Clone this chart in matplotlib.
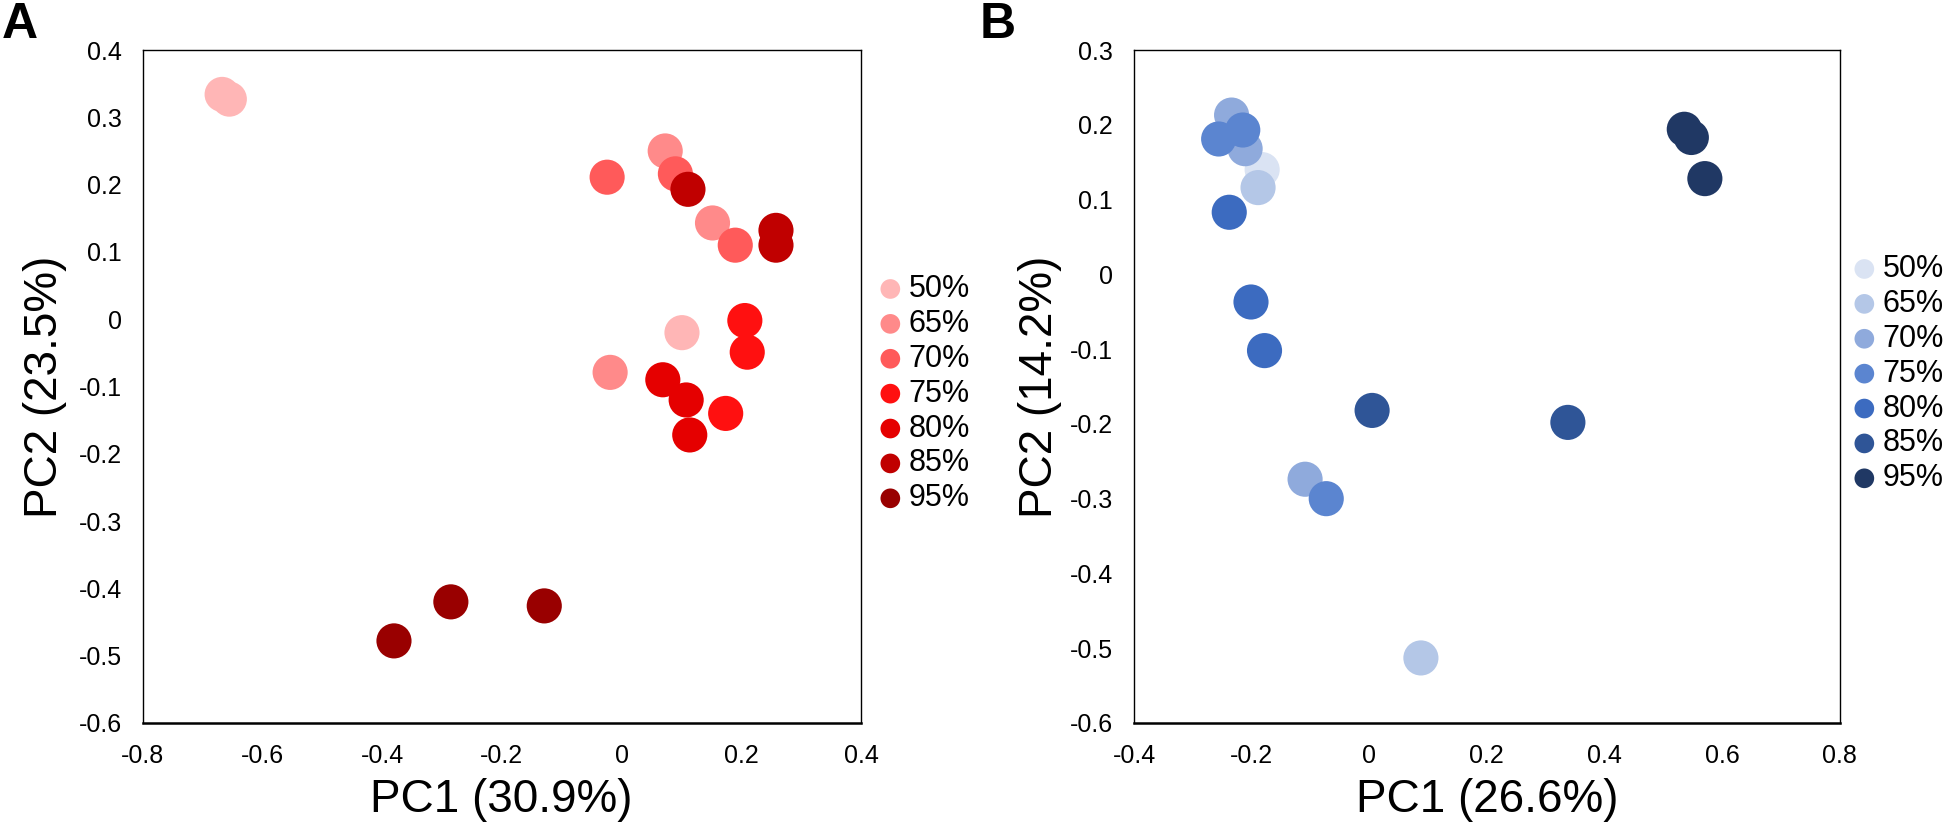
import matplotlib
matplotlib.use("Agg")
import matplotlib.pyplot as plt

# group labels shared by both panels
groups = ["50%", "65%", "70%", "75%", "80%", "85%", "95%"]

# panel A (PC1 30.9%, PC2 23.5%)
a_x = {
    "50%": [-0.667, -0.655, 0.101],
    "65%": [0.073, 0.152, -0.019],
    "70%": [-0.024, 0.090, 0.190],
    "75%": [0.206, 0.210, 0.174],
    "80%": [0.069, 0.108, 0.114],
    "85%": [0.111, 0.258, 0.258],
    "95%": [-0.285, -0.129, -0.380],
}
a_y = {
    "50%": [0.334, 0.327, -0.020],
    "65%": [0.250, 0.143, -0.079],
    "70%": [0.211, 0.216, 0.110],
    "75%": [-0.002, -0.049, -0.140],
    "80%": [-0.090, -0.120, -0.172],
    "85%": [0.193, 0.132, 0.110],
    "95%": [-0.420, -0.426, -0.478],
}
a_colors = ["#FFB6B6", "#FF8A8A", "#FF5A5A", "#FF1010", "#E50000", "#C00000", "#990000"]

# panel B (PC1 26.6%, PC2 14.2%)
b_x = {
    "50%": [-0.182],
    "65%": [-0.189, 0.088],
    "70%": [-0.234, -0.211, -0.109],
    "75%": [-0.215, -0.256, -0.073],
    "80%": [-0.238, -0.201, -0.178],
    "85%": [0.005, 0.338],
    "95%": [0.536, 0.548, 0.571],
}
b_y = {
    "50%": [0.140],
    "65%": [0.116, -0.513],
    "70%": [0.213, 0.168, -0.274],
    "75%": [0.193, 0.181, -0.300],
    "80%": [0.083, -0.037, -0.102],
    "85%": [-0.182, -0.198],
    "95%": [0.194, 0.183, 0.128],
}
b_colors = ["#DAE3F3", "#B4C7E7", "#8FAADC", "#5B85D0", "#3C6BC0", "#2F5597", "#203864"]

plt.rcParams["font.family"] = ["Liberation Sans", "DejaVu Sans"]

W, H = 1946, 832
fig = plt.figure(figsize=(W / 100, H / 100), dpi=100)


def make_panel(left, right, top, bottom, xs, ys, colors, xlim, ylim, xticks, yticks,
               xlabel, ylabel, letter, letter_x, ylab_x, leg_x, leg_y):
    ax = fig.add_axes([left / W, 1 - bottom / H, (right - left) / W, (bottom - top) / H])
    for g, c in zip(groups, colors):
        ax.scatter(xs[g], ys[g], s=640, color=c, edgecolors="none", label=g, zorder=3)
    ax.set_xlim(*xlim)
    ax.set_ylim(*ylim)
    ax.set_xticks(xticks)
    ax.set_yticks(yticks)
    ax.set_xticklabels(["0" if abs(t) < 1e-9 else f"{t:.1f}" for t in xticks], fontsize=18)
    ax.set_yticklabels(["0" if abs(t) < 1e-9 else f"{t:.1f}" for t in yticks], fontsize=18)
    ax.tick_params(length=0, pad=15)
    for s in ax.spines.values():
        s.set_linewidth(1.0)
        s.set_color("black")
    ax.spines["bottom"].set_linewidth(1.8)
    ax.set_xlabel(xlabel, fontsize=33)
    ax.set_ylabel(ylabel, fontsize=33)
    ax.xaxis.set_label_coords(0.5, -(800 - bottom) / (bottom - top))
    ax.xaxis.label.set_va("center")
    ax.yaxis.set_label_coords((ylab_x - left) / (right - left), 0.5)
    ax.yaxis.label.set_va("center")
    fig.text(letter_x / W, 1 - 2 / H, letter, fontsize=36, fontweight="bold",
             va="top", ha="left")
    # legend anchored in figure pixels (top-left corner of the entries)
    ax.legend(loc="upper left", bbox_to_anchor=(leg_x / W, 1 - leg_y / H),
              bbox_transform=fig.transFigure, frameon=False, borderpad=0,
              markerscale=0.56, fontsize=22, handletextpad=0.0, labelspacing=0.16,
              borderaxespad=0, handlelength=1.2)
    return ax


make_panel(142.5, 861, 50, 723, a_x, a_y, a_colors, (-0.8, 0.4), (-0.6, 0.4),
           [-0.8, -0.6, -0.4, -0.2, 0, 0.2, 0.4],
           [-0.6, -0.5, -0.4, -0.3, -0.2, -0.1, 0, 0.1, 0.2, 0.3, 0.4],
           "PC1 (30.9%)", "PC2 (23.5%)", "A", 2, 45, 872, 274)

make_panel(1134, 1839.5, 50, 723, b_x, b_y, b_colors, (-0.4, 0.8), (-0.6, 0.3),
           [-0.4, -0.2, 0, 0.2, 0.4, 0.6, 0.8],
           [-0.6, -0.5, -0.4, -0.3, -0.2, -0.1, 0, 0.1, 0.2, 0.3],
           "PC1 (26.6%)", "PC2 (14.2%)", "B", 980, 1040, 1846, 254)

fig.savefig("out.png", dpi=100)
